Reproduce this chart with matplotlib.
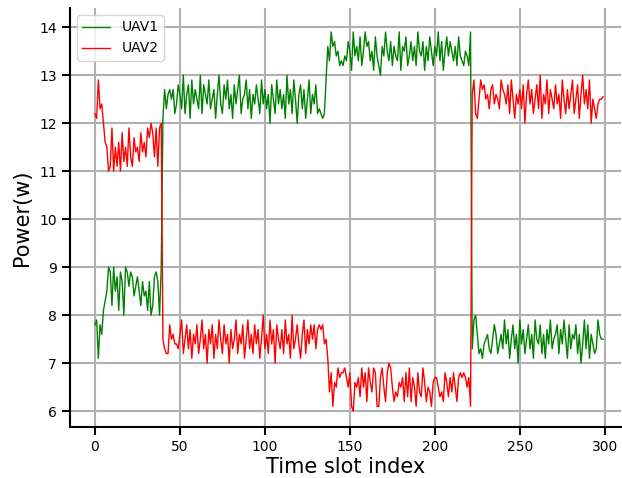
import numpy as np
import matplotlib
matplotlib.use("Agg")
import matplotlib.pyplot as plt

# Transmit power of each UAV per time slot (W)
uav1_seg1 = [7.8, 7.9, 7.1, 7.8, 7.6, 8.1, 8.3, 8.5, 9.0, 8.9,
             8.2, 9.0, 8.5, 8.8, 8.1, 8.9, 8.7, 8.0, 9.0, 8.9,
             8.6, 8.9, 8.8, 8.4, 8.6, 8.8, 8.5, 8.2, 8.7, 8.4,
             8.5, 8.1, 8.7, 8.0, 8.2, 8.8, 8.9, 8.7, 8.0, 9.0]
uav1_seg2 = [12.1, 12.7, 12.3, 12.6, 12.7, 12.5, 12.7, 12.2, 12.4, 12.8,
             12.6, 12.3, 13.0, 12.2, 12.6, 12.8, 12.1, 12.9, 12.4, 12.7,
             12.5, 12.3, 13.0, 12.2, 12.8, 12.6, 12.4, 12.9, 12.3, 12.5,
             12.7, 12.1, 12.6, 13.0, 12.4, 12.2, 12.8, 12.5, 12.9, 12.3,
             12.6, 12.1, 12.8, 12.4, 12.7, 13.0, 12.2, 12.5, 12.6, 12.9,
             12.3, 12.7, 12.1, 12.6, 12.4, 12.8, 12.5, 12.2, 12.9, 12.4,
             12.7, 12.3, 12.6, 12.0, 12.8, 12.5, 12.2, 12.9, 12.4, 12.7,
             12.3, 12.6, 12.1, 13.0, 12.4, 12.7, 12.2, 12.9, 12.5, 12.0,
             12.6, 12.8, 12.3, 12.7, 12.1, 12.5, 12.9, 12.2, 12.6, 12.4,
             12.8, 12.2, 12.3, 12.2, 12.1, 12.2, 12.9]
uav1_seg3 = [13.6, 13.3, 13.9, 13.6, 13.7, 13.4, 13.5, 13.2, 13.3, 13.2,
             13.4, 13.3, 13.7, 13.5, 13.1, 13.9, 13.4, 13.6, 13.3, 13.8,
             13.2, 13.5, 13.9, 13.6, 13.7, 13.3, 13.5, 13.1, 13.8, 13.4,
             13.2, 13.0, 13.6, 13.4, 13.9, 13.5, 13.3, 13.7, 13.2, 13.6,
             13.4, 13.3, 13.9, 13.1, 13.6, 13.5, 13.8, 13.2, 13.4, 13.7,
             13.3, 13.6, 13.2, 13.9, 13.5, 13.4, 13.7, 13.1, 13.6, 13.3,
             13.8, 13.5, 13.2, 13.6, 13.4, 13.9, 13.3, 13.7, 13.1, 13.5,
             13.8, 13.4, 13.7, 13.5, 13.3, 13.6, 13.2, 13.8, 13.4, 13.3,
             13.2, 13.5, 13.4, 13.2, 13.9]
uav1_seg4 = [7.3, 7.9, 8.0, 7.6, 7.2, 7.3, 7.1, 7.4, 7.5, 7.6,
             7.3, 7.2, 7.5, 7.8, 7.6, 7.2, 7.4, 7.6, 7.3, 7.9,
             7.4, 7.7, 7.1, 7.5, 7.8, 7.3, 7.6, 7.0, 7.9, 7.4,
             7.7, 7.2, 7.5, 7.8, 7.3, 7.6, 7.1, 7.9, 7.5, 7.4,
             7.8, 7.2, 7.6, 7.1, 7.7, 7.4, 7.9, 7.3, 7.5, 7.6,
             7.8, 7.2, 7.7, 7.4, 7.9, 7.5, 7.1, 7.8, 7.3, 7.6,
             7.5, 7.8, 7.2, 7.6, 7.0, 7.4, 7.9, 7.3, 7.8, 7.1,
             7.6, 7.4, 7.2, 7.3, 7.9, 7.6, 7.5, 7.5]

uav2_seg1 = [12.2, 12.1, 12.9, 12.3, 12.4, 12.0, 11.6, 11.5, 11.0, 11.1,
             11.9, 11.0, 11.5, 11.1, 11.6, 11.0, 11.8, 11.2, 11.5, 11.1,
             11.9, 11.3, 11.1, 11.7, 11.4, 11.5, 11.2, 11.8, 11.4, 11.6,
             11.3, 11.9, 11.7, 12.0, 11.8, 11.3, 11.9, 11.1, 11.9, 12.0]
uav2_seg2 = [7.5, 7.3, 7.2, 7.2, 7.8, 7.5, 7.6, 7.4, 7.4, 7.3,
             7.6, 7.9, 7.2, 7.5, 7.8, 7.3, 7.7, 7.1, 7.6, 7.4,
             7.8, 7.2, 7.5, 7.9, 7.3, 7.6, 7.0, 7.7, 7.4, 7.8,
             7.1, 7.6, 7.3, 7.9, 7.5, 7.2, 7.8, 7.4, 7.6, 7.0,
             7.7, 7.3, 7.5, 7.9, 7.2, 7.6, 7.4, 7.8, 7.1, 7.5,
             7.9, 7.3, 7.6, 7.2, 7.8, 7.4, 7.7, 7.1, 7.5, 8.0,
             7.3, 7.6, 7.2, 7.9, 7.4, 7.7, 7.0, 7.8, 7.5, 7.3,
             7.7, 7.2, 7.9, 7.4, 7.6, 7.1, 8.0, 7.3, 7.5, 7.8,
             7.4, 7.1, 7.6, 7.9, 7.2, 7.7, 7.4, 7.8, 7.5, 7.8,
             7.3, 7.7, 7.8, 7.7, 7.8, 7.4, 7.5]
uav2_seg3 = [7.1, 6.4, 6.8, 6.1, 6.6, 6.5, 6.9, 6.7, 6.8, 6.8,
             6.9, 6.7, 6.5, 6.8, 6.1, 6.0, 6.6, 6.5, 6.7, 6.3,
             6.9, 6.5, 6.8, 6.2, 6.9, 6.6, 6.4, 6.9, 6.8, 6.1,
             6.1, 6.7, 6.9, 6.5, 6.2, 6.8, 7.0, 6.9, 6.5, 6.2,
             6.4, 6.3, 6.6, 6.5, 6.7, 6.2, 6.8, 6.3, 6.9, 6.2,
             6.7, 6.5, 6.1, 6.8, 6.4, 6.3, 6.9, 6.6, 6.2, 6.5,
             6.4, 6.1, 6.6, 6.7, 6.7, 6.5, 6.3, 6.4, 6.2, 6.8,
             6.6, 6.3, 6.7, 6.4, 6.8, 6.5, 6.2, 6.7, 6.8, 6.7,
             6.8, 6.7, 6.5, 6.7, 6.1]
uav2_seg4 = [12.6, 12.9, 12.2, 12.1, 12.5, 12.9, 12.7, 12.8, 12.5, 12.6,
             12.3, 12.7, 12.8, 12.4, 12.6, 12.5, 12.3, 12.9, 12.7, 12.6,
             12.4, 12.8, 12.2, 12.9, 12.5, 12.1, 12.6, 12.4, 12.7, 12.3,
             12.8, 12.0, 12.6, 12.9, 12.4, 12.7, 12.2, 12.5, 12.8, 12.3,
             13.0, 12.1, 12.6, 12.4, 12.9, 12.2, 12.7, 12.5, 12.3, 12.8,
             12.4, 12.6, 12.1, 12.9, 12.5, 12.2, 12.7, 12.3, 12.6, 12.9,
             12.2, 12.5, 12.8, 12.1, 12.6, 13.0, 12.4, 12.7, 12.3, 12.9,
             12.0, 12.5, 12.3, 12.1, 12.4, 12.5, 12.5, 12.55]

uav1 = np.array(uav1_seg1 + uav1_seg2 + uav1_seg3 + uav1_seg4)
uav2 = np.array(uav2_seg1 + uav2_seg2 + uav2_seg3 + uav2_seg4)
slots = np.arange(len(uav1))

fig = plt.figure(figsize=(6.22, 4.78), dpi=100)
ax = fig.add_axes([0.1125, 0.1067, 0.8855, 0.8766])
ax.plot(slots, uav1, color="green", linewidth=1.0, label="UAV1")
ax.plot(slots, uav2, color="red", linewidth=1.0, label="UAV2")

ax.set_xlim(-14.7, 309.4)
ax.set_ylim(5.67, 14.4)
ax.set_xlabel("Time slot index", fontsize=15, labelpad=2)
ax.set_ylabel("Power(w)", fontsize=15, labelpad=5)
ax.set_xticks([0, 50, 100, 150, 200, 250, 300])
ax.set_yticks([6, 7, 8, 9, 10, 11, 12, 13, 14])
ax.grid(True, color="#b0b0b0", linewidth=1.5)
ax.tick_params(axis="both", labelsize=10, length=6, width=1.5)
for side in ("left", "bottom"):
    ax.spines[side].set_linewidth(1.5)
for side in ("top", "right"):
    ax.spines[side].set_visible(False)
ax.legend(loc="upper left", fontsize=10)

fig.savefig("out.png", dpi=100)
